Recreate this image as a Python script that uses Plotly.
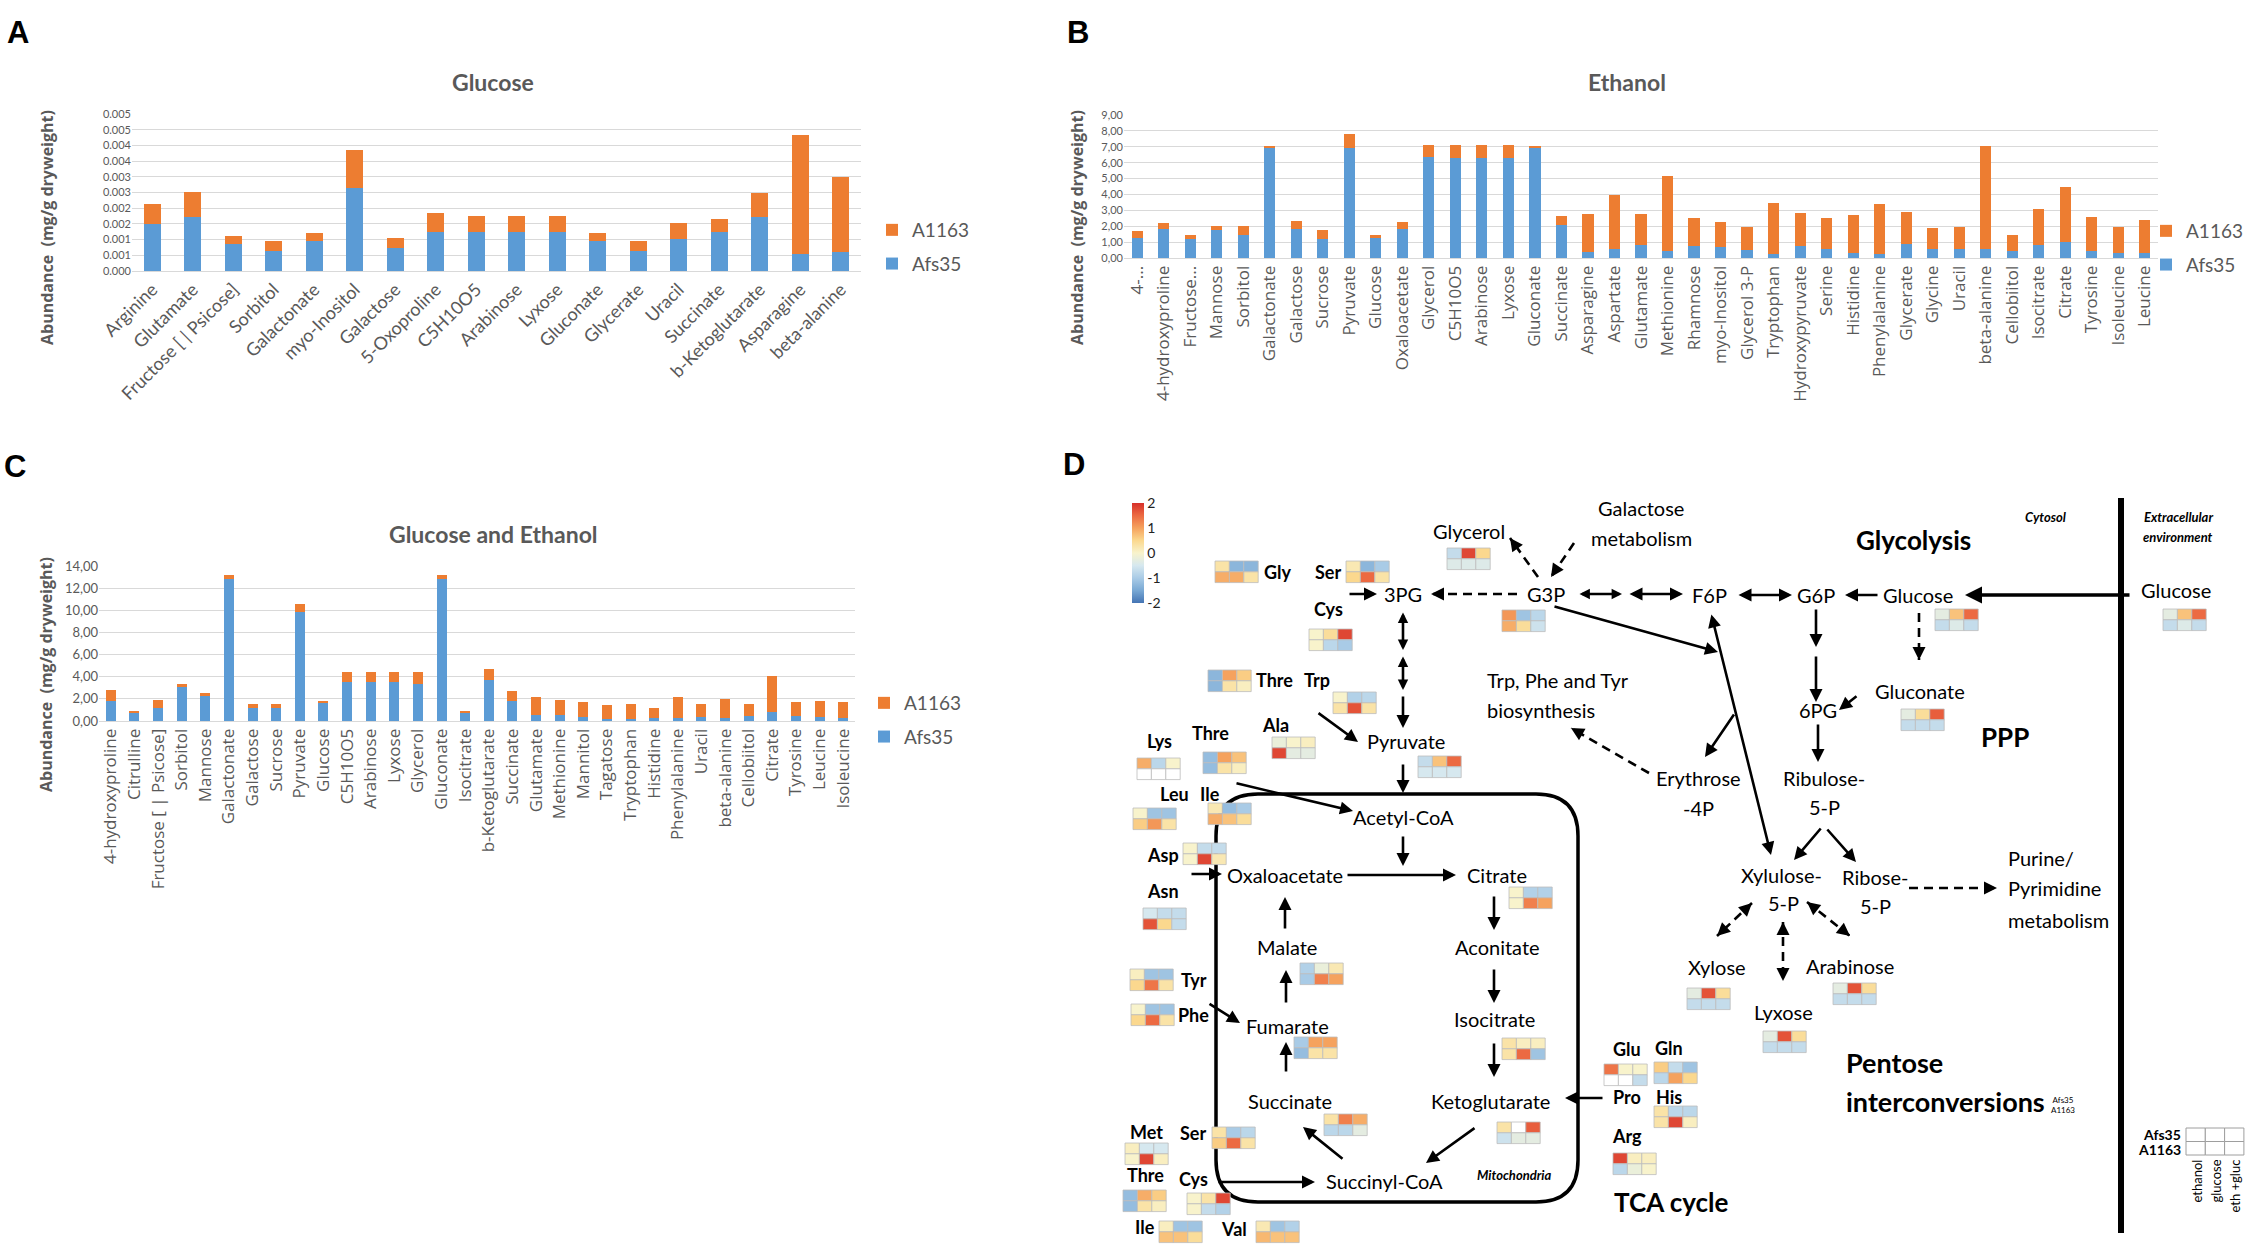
import math
import plotly.graph_objects as go
from plotly.colors import sample_colorscale

W, H = 2251, 1246
BLUE = "#5B9BD5"
ORANGE = "#ED7D31"
GRAY = "#595959"
GRID = "#D9D9D9"
FONT = "Lato"
FONT2 = "Open Sans"

# ---------------- Panel A : Glucose ----------------
a_categories = ["Arginine", "Glutamate", "Fructose [ | Psicose]", "Sorbitol", "Galactonate",
                "myo-Inositol", "Galactose", "5-Oxoproline", "C5H10O5", "Arabinose", "Lyxose",
                "Gluconate", "Glycerate", "Uracil", "Succinate", "b-Ketoglutarate", "Asparagine",
                "beta-alanine"]
a_afs35 = [0.00149, 0.00171, 0.00085, 0.00064, 0.00095, 0.00264, 0.00073, 0.00124, 0.00124,
           0.00124, 0.00124, 0.00095, 0.00064, 0.00101, 0.00123, 0.00171, 0.00053, 0.00060]
a_a1163 = [0.00065, 0.00081, 0.00027, 0.00032, 0.00026, 0.00122, 0.00031, 0.00061, 0.00052,
           0.00052, 0.00052, 0.00026, 0.00032, 0.00052, 0.00042, 0.00078, 0.00380, 0.00240]
a_tickvals = [0, 0.0005, 0.001, 0.0015, 0.002, 0.0025, 0.003, 0.0035, 0.004, 0.0045, 0.005]
a_ticktext = ["0.000", "0.001", "0.001", "0.002", "0.002", "0.003", "0.003", "0.004", "0.004",
              "0.005", "0.005"]

# ---------------- Panel B : Ethanol ----------------
b_categories = ["4-...", "4-hydroxyproline", "Fructose...", "Mannose", "Sorbitol", "Galactonate",
                "Galactose", "Sucrose", "Pyruvate", "Glucose", "Oxaloacetate", "Glycerol",
                "C5H10O5", "Arabinose", "Lyxose", "Gluconate", "Succinate", "Asparagine",
                "Aspartate", "Glutamate", "Methionine", "Rhamnose", "myo-Inositol",
                "Glycerol 3-P", "Tryptophan", "Hydroxypyruvate", "Serine", "Histidine",
                "Phenylalanine", "Glycerate", "Glycine", "Uracil", "beta-alanine", "Cellobiitol",
                "Isocitrate", "Citrate", "Tyrosine", "Isoleucine", "Leucine"]
b_afs35 = [1.26, 1.82, 1.19, 1.74, 1.45, 6.92, 1.82, 1.19, 6.92, 1.28, 1.82, 6.35, 6.29, 6.29,
           6.29, 6.92, 2.08, 0.38, 0.55, 0.82, 0.42, 0.75, 0.69, 0.50, 0.25, 0.75, 0.57, 0.31,
           0.25, 0.90, 0.57, 0.57, 0.57, 0.44, 0.82, 1.00, 0.46, 0.34, 0.34]
b_a1163 = [0.44, 0.38, 0.26, 0.29, 0.54, 0.15, 0.53, 0.59, 0.90, 0.17, 0.47, 0.78, 0.84, 0.84,
           0.84, 0.15, 0.58, 2.39, 3.43, 1.95, 4.76, 1.79, 1.60, 1.43, 3.21, 2.10, 1.97, 2.39,
           3.15, 2.01, 1.34, 1.40, 6.50, 1.01, 2.28, 3.49, 2.14, 1.63, 2.07]
b_tickvals = [0, 1, 2, 3, 4, 5, 6, 7, 8, 9]
b_ticktext = ["0,00", "1,00", "2,00", "3,00", "4,00", "5,00", "6,00", "7,00", "8,00", "9,00"]

# ---------------- Panel C : Glucose and Ethanol ----------------
c_categories = ["4-hydroxyproline", "Citrulline", "Fructose [ | Psicose]", "Sorbitol", "Mannose",
                "Galactonate", "Galactose", "Sucrose", "Pyruvate", "Glucose", "C5H10O5",
                "Arabinose", "Lyxose", "Glycerol", "Gluconate", "Isocitrate", "b-Ketoglutarate",
                "Succinate", "Glutamate", "Methionine", "Mannitol", "Tagatose", "Tryptophan",
                "Histidine", "Phenylalanine", "Uracil", "beta-alanine", "Cellobiitol", "Citrate",
                "Tyrosine", "Leucine", "Isoleucine"]
c_afs35 = [1.78, 0.75, 1.20, 3.07, 2.29, 12.80, 1.20, 1.20, 9.85, 1.69, 3.55, 3.55, 3.55, 3.34,
           12.80, 0.75, 3.67, 1.78, 0.51, 0.51, 0.39, 0.21, 0.21, 0.24, 0.24, 0.33, 0.24, 0.42,
           0.84, 0.42, 0.33, 0.24]
c_a1163 = [0.99, 0.15, 0.70, 0.27, 0.24, 0.39, 0.34, 0.34, 0.72, 0.15, 0.88, 0.88, 0.88, 1.09,
           0.39, 0.15, 1.03, 0.93, 1.66, 1.39, 1.30, 1.24, 1.33, 0.93, 1.93, 1.21, 1.72, 1.12,
           3.23, 1.30, 1.48, 1.48]
c_tickvals = [0, 2, 4, 6, 8, 10, 12, 14]
c_ticktext = ["0,00", "2,00", "4,00", "6,00", "8,00", "10,00", "12,00", "14,00"]

# ---------------- Panel D : heat-map values (z-scores) ----------------
# columns: ethanol, glucose, eth+gluc
hm_names = ["Gly", "Ser_a", "Cys_a", "Glycerol", "G3P", "Thre_a", "Trp", "Ala", "Lys", "Thre_b",
            "Pyruvate", "Leu", "Ile_a", "Asp", "Asn", "Citrate", "Malate", "Tyr", "Phe",
            "Fumarate", "Isocitrate", "Ketoglutarate", "Succinate", "Met", "Ser_b", "Thre_c",
            "Cys_b", "Ile_b", "Val", "Glu", "Gln", "His", "Arg", "Glucose_in", "Gluconate",
            "Glucose_out", "Xylose", "Lyxose", "Arabinose"]
hm_afs35 = [[0.3, -1.3, -1.3], [0.2, -1.3, -1.0], [0.0, 0.4, 1.8], [-0.7, 1.8, 0.5],
            [1.1, -1.1, -0.8], [-1.3, 1.0, 0.6], [0.0, -0.9, -0.8], [-0.2, 0.0, 0.1],
            [0.9, -0.8, 0.0], [-1.2, 1.0, 0.7], [-0.7, 0.7, 1.5], [0.0, -1.1, -1.1],
            [0.2, -1.2, -1.0], [0.0, -0.7, -0.7], [-0.5, -0.7, -0.7], [0.0, -0.9, -0.9],
            [-0.9, -0.2, 0.2], [0.1, -1.1, -1.1], [0.0, -1.1, -1.1], [-1.0, 1.0, 1.0],
            [0.3, 0.1, 0.1], [0.3, None, 1.6], [0.3, 1.3, 0.9], [0.1, -0.5, -0.5],
            [0.3, -1.0, -0.8], [-1.2, 0.9, 0.6], [0.0, 0.3, 1.8], [0.1, -1.1, -1.1],
            [0.2, -1.1, -0.9], [1.4, 0.0, 0.0], [0.6, -0.7, -1.1], [0.3, -0.8, -0.8],
            [1.8, 0.1, 0.1], [-0.3, 0.7, 1.5], [-0.3, 0.4, 1.6], [-0.3, 0.7, 1.5],
            [-0.3, 1.7, 0.4], [-0.3, 1.7, 0.4], [-0.3, 1.7, 0.4]]
hm_a1163 = [[0.9, 0.9, 0.3], [0.5, 1.5, 0.3], [0.0, -0.8, -1.0], [-0.4, -0.4, -0.4],
            [0.9, 0.4, -0.6], [-1.3, 0.3, 0.1], [0.3, 1.7, 0.3], [1.8, -0.3, -0.3],
            [None, None, None], [-1.2, 0.3, 0.1], [-0.5, -0.5, -0.5], [0.6, 1.1, 0.3],
            [0.9, 0.7, 0.4], [0.0, 1.8, 0.2], [1.7, 0.5, -0.7], [0.0, 1.3, 1.0],
            [-1.0, 1.3, 1.0], [0.5, 1.4, 0.3], [0.5, 1.5, 0.3], [-1.2, 0.3, 0.3],
            [0.3, 1.5, -1.1], [-0.6, -0.3, -0.3], [-0.8, -0.8, -0.3], [0.0, 1.8, 0.1],
            [0.6, 1.5, 0.3], [-1.2, 0.3, 0.1], [0.0, -0.7, -0.9], [0.7, 0.7, 0.4],
            [0.8, 0.7, 0.7], [None, None, -0.7], [-0.8, 1.0, 0.5], [0.3, 1.8, 0.1],
            [-0.8, -0.2, 0.0], [-0.7, -0.4, -0.7], [-0.7, -0.7, -0.7], [-0.7, -0.4, -0.7],
            [-0.7, -0.7, -0.7], [-0.7, -0.7, -0.7], [-0.7, -0.7, -0.7]]
hm_colorscale = [[0.0, "#4575b4"], [0.125, "#78a8d4"], [0.25, "#a9cbe6"], [0.375, "#d6e8ef"],
                 [0.5, "#f8f3cc"], [0.625, "#fbd88e"], [0.75, "#f5a25e"], [0.875, "#ec6a42"],
                 [1.0, "#d7302a"]]

# ---------------- Panel D : layout (pixel positions) ----------------
hm_pos = {"Gly": (1215, 561), "Ser_a": (1346, 561), "Cys_a": (1309, 629), "Glycerol": (1447, 548),
          "G3P": (1502, 610), "Thre_a": (1208, 670), "Trp": (1333, 692), "Ala": (1272, 737),
          "Lys": (1137, 758), "Thre_b": (1203, 752), "Pyruvate": (1418, 756), "Leu": (1133, 808),
          "Ile_a": (1208, 803), "Asp": (1183, 843), "Asn": (1143, 908), "Citrate": (1509, 887),
          "Malate": (1300, 963), "Tyr": (1130, 969), "Phe": (1131, 1004), "Fumarate": (1294, 1037),
          "Isocitrate": (1502, 1038), "Ketoglutarate": (1497, 1122), "Succinate": (1324, 1114),
          "Met": (1125, 1143), "Ser_b": (1212, 1127), "Thre_c": (1123, 1190), "Cys_b": (1187, 1193),
          "Ile_b": (1159, 1221), "Val": (1256, 1221), "Glu": (1604, 1064), "Gln": (1654, 1062),
          "His": (1654, 1106), "Arg": (1613, 1153), "Glucose_in": (1935, 609),
          "Gluconate": (1901, 709), "Glucose_out": (2163, 609), "Xylose": (1687, 988),
          "Lyxose": (1763, 1031), "Arabinose": (1833, 983)}
CELL_W, CELL_H = 14.4, 10.8

node_labels = [("3PG", 1403, 594), ("Glycerol", 1469, 531), ("Galactose", 1641, 508),
               ("metabolism", 1641, 538), ("G3P", 1546, 594), ("F6P", 1709, 595),
               ("G6P", 1816, 595), ("Glucose", 1918, 595), ("Glucose", 2176, 590),
               ("Gluconate", 1920, 691), ("6PG", 1818, 710), ("Ribulose-", 1824, 778),
               ("5-P", 1824, 807), ("Erythrose", 1698, 778), ("-4P", 1698, 808),
               ("Pyruvate", 1406, 741), ("Acetyl-CoA", 1403, 817), ("Oxaloacetate", 1285, 875),
               ("Citrate", 1497, 875), ("Aconitate", 1497, 947), ("Isocitrate", 1494, 1019),
               ("Ketoglutarate", 1490, 1101), ("Succinyl-CoA", 1384, 1181),
               ("Succinate", 1290, 1101), ("Fumarate", 1287, 1026), ("Malate", 1287, 947),
               ("Xylulose-", 1781, 875), ("5-P", 1783, 903), ("Ribose-", 1875, 877),
               ("5-P", 1875, 906), ("Xylose", 1717, 967), ("Lyxose", 1783, 1012),
               ("Arabinose", 1850, 966)]
left_labels = [("Trp, Phe and Tyr", 1485, 680), ("biosynthesis", 1485, 710),
               ("Purine/", 2006, 858), ("Pyrimidine", 2006, 888), ("metabolism", 2006, 920)]
aa_labels = [("Gly", 1278, 572), ("Ser", 1328, 572), ("Cys", 1328, 609), ("Thre", 1274, 680),
             ("Trp", 1317, 680), ("Ala", 1275, 725), ("Lys", 1159, 741), ("Thre", 1210, 733),
             ("Leu", 1174, 794), ("Ile", 1210, 794), ("Asp", 1163, 855), ("Asn", 1163, 891),
             ("Tyr", 1194, 980), ("Phe", 1193, 1015), ("Met", 1146, 1132), ("Ser", 1193, 1133),
             ("Thre", 1145, 1175), ("Cys", 1193, 1179), ("Ile", 1145, 1227), ("Val", 1234, 1229),
             ("Glu", 1627, 1049), ("Gln", 1669, 1048), ("Pro", 1627, 1097), ("His", 1669, 1097),
             ("Arg", 1627, 1136)]

solid_arrows = [((1348, 594), (1377, 594), False), ((1403, 611), (1403, 650), True),
                ((1403, 655), (1403, 690), True), ((1403, 695), (1403, 728), False),
                ((1317, 712), (1358, 742), False), ((1403, 763), (1403, 793), False),
                ((1235, 783), (1353, 811), False), ((1403, 835), (1403, 866), False),
                ((1190, 874), (1222, 874), False), ((1346, 875), (1456, 875), False),
                ((1494, 895), (1494, 930), False), ((1494, 968), (1494, 1003), False),
                ((1494, 1042), (1494, 1077), False), ((1604, 1098), (1565, 1098), False),
                ((1476, 1127), (1426, 1163), False), ((1344, 1160), (1303, 1127), False),
                ((1286, 1073), (1286, 1042), False), ((1286, 1004), (1286, 970), False),
                ((1285, 930), (1285, 897), False), ((1208, 1003), (1240, 1023), False),
                ((1217, 1182), (1315, 1182), False), ((1578, 594), (1622, 594), True),
                ((1628, 594), (1683, 594), True), ((1737, 595), (1792, 595), True),
                ((1879, 595), (1845, 595), False), ((1816, 608), (1816, 647), False),
                ((1816, 655), (1816, 702), False), ((1858, 695), (1839, 710), False),
                ((1818, 723), (1818, 762), False), ((1711, 613), (1771, 855), True),
                ((1553, 606), (1718, 652), False), ((1735, 713), (1705, 757), False),
                ((1822, 827), (1794, 860), False), ((1826, 828), (1856, 862), False)]
dashed_arrows = [((1517, 594), (1431, 594), False), ((1538, 577), (1510, 538), False),
                 ((1574, 543), (1551, 577), False), ((1919, 613), (1919, 660), False),
                 ((1649, 773), (1571, 728), False), ((1909, 888), (1997, 888), False),
                 ((1752, 903), (1717, 936), True), ((1783, 922), (1783, 981), True),
                 ((1807, 902), (1850, 936), True)]

fig = go.Figure()


def add_bars(cats, afs, a1163, xa, ya, leg, grp):
    fig.add_trace(go.Bar(x=cats, y=afs, name="Afs35", marker=dict(color=BLUE, line=dict(width=0)),
                         xaxis=xa, yaxis=ya, legend=leg, legendgroup=grp + "afs", legendrank=2,
                         hoverinfo="skip"))
    fig.add_trace(go.Bar(x=cats, y=a1163, name="A1163",
                         marker=dict(color=ORANGE, line=dict(width=0)),
                         xaxis=xa, yaxis=ya, legend=leg, legendgroup=grp + "a11", legendrank=1,
                         hoverinfo="skip"))


add_bars(a_categories, a_afs35, a_a1163, "x", "y", "legend", "a")
add_bars(b_categories, b_afs35, b_a1163, "x2", "y2", "legend2", "b")
add_bars(c_categories, c_afs35, c_a1163, "x3", "y3", "legend3", "c")

# dummy trace carrying the heat-map colour bar on the overlay axes
fig.add_trace(go.Scatter(
    x=[-100], y=[-100], mode="markers", xaxis="x4", yaxis="y4", showlegend=False,
    hoverinfo="skip",
    marker=dict(color=[0], colorscale=hm_colorscale, cmin=-2, cmax=2, showscale=True, size=1,
                colorbar=dict(x=1132 / W, xanchor="left", y=1 - 553 / H, yanchor="middle",
                              len=100, lenmode="pixels", thickness=12, outlinewidth=0,
                              xpad=0, ypad=0, tickvals=[-2, -1, 0, 1, 2],
                              ticktext=["-2", "-1", "0", "1", "2"], ticks="",
                              tickfont=dict(family=FONT, size=14, color="#222222")))))

annotations = []
shapes = []


def txt(x, y, s, size=18, xanchor="center", color="black", family=FONT, angle=0, yanchor="middle"):
    annotations.append(dict(x=x, y=y, xref="x4", yref="y4", text=s, showarrow=False,
                            xanchor=xanchor, yanchor=yanchor, textangle=angle,
                            font=dict(size=size, color=color, family=family)))


def arrow(p0, p1, both=False, width=2.6, size=1.0):
    annotations.append(dict(x=p1[0], y=p1[1], ax=p0[0], ay=p0[1], xref="x4", yref="y4",
                            axref="x4", ayref="y4", text="", showarrow=True, arrowhead=2,
                            arrowsize=size, arrowwidth=width, arrowcolor="black",
                            startarrowhead=2, startarrowsize=size,
                            arrowside="end+start" if both else "end"))


def head(p_from, p_to, width=2.6):
    dx, dy = p_to[0] - p_from[0], p_to[1] - p_from[1]
    n = math.hypot(dx, dy)
    ux, uy = dx / n, dy / n
    arrow((p_to[0] - ux * 9, p_to[1] - uy * 9), p_to, False, width)


# ---------- panel letters, titles, axis titles ----------
for letter, x, y in [("A", 18, 32), ("B", 1078, 32), ("C", 15, 466), ("D", 1074, 464)]:
    txt(x, y, "<b>%s</b>" % letter, size=31, family="Liberation Sans")
for title, x, y in [("Glucose", 493, 82), ("Ethanol", 1627, 82), ("Glucose and Ethanol", 493, 534)]:
    txt(x, y, "<b>%s</b>" % title, size=23, color=GRAY)
for x, y in [(47, 228), (1077, 228), (46, 675)]:
    txt(x, y, "<b>Abundance  (mg/g dryweight)</b>", size=16, color=GRAY, family=FONT2, angle=-90)

# ---------- panel D drawing ----------
x0, y0, x1, y1, r = 1216, 794, 1578, 1202, 42
shapes.append(dict(type="path", xref="x4", yref="y4",
                   path=("M %d,%d L %d,%d Q %d,%d %d,%d L %d,%d Q %d,%d %d,%d L %d,%d Q %d,%d %d,%d "
                         "L %d,%d Q %d,%d %d,%d Z") % (
                       x0 + r, y0, x1 - r, y0, x1, y0, x1, y0 + r, x1, y1 - r, x1, y1, x1 - r, y1,
                       x0 + r, y1, x0, y1, x0, y1 - r, x0, y0 + r, x0, y0, x0 + r, y0),
                   line=dict(color="black", width=3.5)))
shapes.append(dict(type="line", xref="x4", yref="y4", x0=2121, x1=2121, y0=498, y1=1233,
                   line=dict(color="black", width=6)))
arrow((2131, 595), (1965, 595), width=3.4)

for p0, p1, both in solid_arrows:
    short = both and math.hypot(p1[0] - p0[0], p1[1] - p0[1]) < 45
    arrow(p0, p1, both, size=0.8 if short else 1.0)
for p0, p1, both in dashed_arrows:
    shapes.append(dict(type="line", xref="x4", yref="y4", x0=p0[0], y0=p0[1], x1=p1[0], y1=p1[1],
                       line=dict(color="black", width=2.6, dash="9px,6px")))
    head(p0, p1)
    if both:
        head(p1, p0)

for name, top_row, bot_row in zip(hm_names, hm_afs35, hm_a1163):
    px, py = hm_pos[name]
    for ri, row in enumerate([top_row, bot_row]):
        for ci, v in enumerate(row):
            col = "white" if v is None else sample_colorscale(hm_colorscale, [(v + 2) / 4])[0]
            shapes.append(dict(type="rect", xref="x4", yref="y4",
                               x0=px + ci * CELL_W, x1=px + (ci + 1) * CELL_W,
                               y0=py + ri * CELL_H, y1=py + (ri + 1) * CELL_H,
                               fillcolor=col, line=dict(color="#bdbdbd", width=0.8)))

for s, x, y in node_labels:
    txt(x, y, s, size=20)
for s, x, y in left_labels:
    txt(x, y, s, size=20, xanchor="left")
for s, x, y in aa_labels:
    txt(x, y, "<b>%s</b>" % s, size=18)

txt(1913, 540, "<b>Glycolysis</b>", size=26)
txt(2005, 737, "<b>PPP</b>", size=26)
txt(1671, 1202, "<b>TCA cycle</b>", size=26)
txt(1844, 1062, "<b>Pentose</b>", size=27, xanchor="left")
txt(1844, 1101, "<b>interconversions</b>", size=27, xanchor="left")
annotations.append(dict(x=2063, y=1105, xref="x4", yref="y4", showarrow=False,
                        text="Afs35<br>A1163", bgcolor="white", borderpad=2,
                        font=dict(size=8, family=FONT, color="black")))
txt(2046, 517, "<b><i>Cytosol</i></b>", size=13)
txt(2178, 517, "<b><i>Extracellular</i></b>", size=13)
txt(2178, 537, "<b><i>environment</i></b>", size=13)
txt(1514, 1175, "<b><i>Mitochondria</i></b>", size=13)

for ri in range(2):
    for ci in range(3):
        shapes.append(dict(type="rect", xref="x4", yref="y4",
                           x0=2186 + ci * 19.3, x1=2186 + (ci + 1) * 19.3,
                           y0=1128 + ri * 13.5, y1=1128 + (ri + 1) * 13.5,
                           fillcolor="white", line=dict(color="#9e9e9e", width=1)))
txt(2183, 1134, "<b>Afs35</b>", size=14, xanchor="right")
txt(2183, 1149, "<b>A1163</b>", size=14, xanchor="right")
for s, x in [("ethanol", 2196), ("glucose", 2215), ("eth +gluc", 2234)]:
    txt(x, 1158, s, size=13, angle=-90, yanchor="top")

axis_common = dict(showgrid=False, ticks="", showline=True, linecolor=GRID, type="category",
                   fixedrange=True, automargin=False)
y_common = dict(gridcolor=GRID, gridwidth=1, zeroline=False, showline=False, ticks="",
                fixedrange=True, automargin=False)
legend_common = dict(xanchor="left", yanchor="top", traceorder="grouped",
                     tracegroupgap=6, bgcolor="rgba(0,0,0,0)", itemwidth=30,
                     font=dict(family=FONT, size=19, color=GRAY))

fig.update_layout(
    width=W, height=H, margin=dict(l=0, r=0, t=0, b=0, autoexpand=False),
    paper_bgcolor="white", plot_bgcolor="rgba(0,0,0,0)",
    barmode="stack", bargap=0.58, showlegend=True,
    xaxis=dict(axis_common, domain=[132 / W, 861 / W], anchor="y", tickangle=-45,
               tickfont=dict(family=FONT, size=18, color=GRAY)),
    yaxis=dict(y_common, domain=[1 - 271 / H, 1 - 114 / H], anchor="x", range=[0, 0.005],
               tickvals=a_tickvals, ticktext=a_ticktext,
               tickfont=dict(family=FONT, size=11, color=GRAY)),
    xaxis2=dict(axis_common, domain=[1124 / W, 2158 / W], anchor="y2", tickangle=-90,
                tickfont=dict(family=FONT2, size=17, color=GRAY)),
    yaxis2=dict(y_common, domain=[1 - 258 / H, 1 - 115 / H], anchor="x2", range=[0, 9],
                tickvals=b_tickvals, ticktext=b_ticktext,
                tickfont=dict(family=FONT, size=11, color=GRAY)),
    xaxis3=dict(axis_common, domain=[99 / W, 855 / W], anchor="y3", tickangle=-90,
                tickfont=dict(family=FONT2, size=17, color=GRAY)),
    yaxis3=dict(y_common, domain=[1 - 721 / H, 1 - 566 / H], anchor="x3", range=[0, 14],
                tickvals=c_tickvals, ticktext=c_ticktext,
                tickfont=dict(family=FONT, size=13, color=GRAY)),
    xaxis4=dict(domain=[0, 1], range=[0, W], visible=False, anchor="y4", fixedrange=True),
    yaxis4=dict(domain=[0, 1], range=[H, 0], visible=False, anchor="x4", fixedrange=True),
    legend=dict(legend_common, x=872 / W, y=1 - 211 / H),
    legend2=dict(legend_common, x=2146 / W, y=1 - 212 / H),
    legend3=dict(legend_common, x=864 / W, y=1 - 684 / H),
    annotations=annotations, shapes=shapes,
)

fig.write_html("out.html", config={"displayModeBar": False},
               post_script="document.body.style.margin='0';")
